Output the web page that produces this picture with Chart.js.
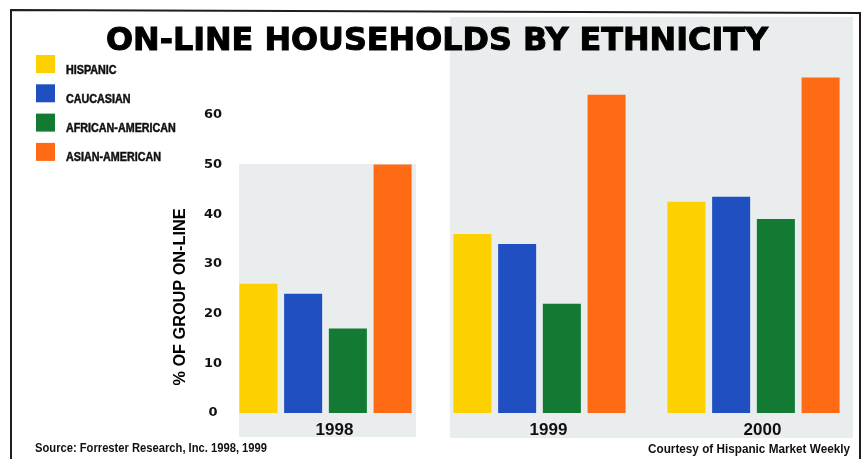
<!DOCTYPE html>
<html><head><meta charset="utf-8">
<script src="https://cdn.jsdelivr.net/npm/chart.js@4"></script>
<style>html,body{margin:0;padding:0;background:#fff;overflow:hidden}#wrap{width:864px;height:459px;position:relative}</style>
</head><body><div id="wrap"><canvas id="c" width="864" height="459"></canvas></div>
<script>
// ---- data ----
const categories = ['1998', '1999', '2000'];
const seriesNames = ['HISPANIC', 'CAUCASIAN', 'AFRICAN-AMERICAN', 'ASIAN-AMERICAN'];
const hispanic = [26, 36, 42.5];
const caucasian = [24, 34, 43.5];
const africanAmerican = [17, 22, 39];
const asianAmerican = [50, 64, 67.5];
const yTickValues = [0, 10, 20, 30, 40, 50, 60];
const titleText = 'ON-LINE HOUSEHOLDS BY ETHNICITY';
const yAxisTitle = '% OF GROUP ON-LINE';
const sourceText = 'Source: Forrester Research, Inc. 1998, 1999';
const courtesyText = 'Courtesy of Hispanic Market Weekly';

const seriesColors = ['#fdd000', '#1f4fc0', '#127a33', '#ff6a14'];
const seriesValues = [hispanic, caucasian, africanAmerican, asianAmerican];

const decor = {
  id: 'decor',
  beforeDraw(chart) {
    const ctx = chart.ctx;
    ctx.save();
    ctx.fillStyle = '#ffffff';
    ctx.fillRect(0, 0, chart.width, chart.height);
    // panels
    ctx.fillStyle = '#e9edee';
    ctx.fillRect(239, 164, 177, 273);
    ctx.fillRect(450, 17, 403, 421);
    // frame
    ctx.strokeStyle = '#1e1e1e';
    ctx.lineWidth = 2;
    ctx.beginPath();
    ctx.moveTo(11, 470);
    ctx.lineTo(11, 10);
    ctx.lineTo(860, 13);
    ctx.lineTo(860, 470);
    ctx.stroke();
    ctx.restore();
  },
  afterDraw(chart) {
    const ctx = chart.ctx;
    ctx.save();
    ctx.fillStyle = '#000';
    // title
    ctx.font = 'bold 32px "DejaVu Sans"';
    ctx.textAlign = 'center';
    ctx.textBaseline = 'alphabetic';
    ctx.fillText(titleText, 437, 50, 662);
    ctx.strokeStyle = '#000';
    ctx.lineWidth = 1;
    ctx.strokeText(titleText, 437, 50, 662);
    // legend
    ctx.textAlign = 'left';
    chart.data.datasets.forEach((ds, i) => {
      const y = 55 + i * 29.3;
      ctx.fillStyle = ds.backgroundColor;
      ctx.fillRect(36, y, 19, 18);
      ctx.fillStyle = '#111';
      ctx.font = 'bold 12.5px "Liberation Sans"';
      ctx.save();
      ctx.translate(66, y + 18.5);
      ctx.scale(0.86, 1);
      ctx.fillText(ds.label, 0, 0);
      ctx.strokeStyle = '#111';
      ctx.lineWidth = 0.5;
      ctx.strokeText(ds.label, 0, 0);
      ctx.restore();
    });
    // y axis title
    ctx.save();
    ctx.translate(185, 297);
    ctx.rotate(-Math.PI / 2);
    ctx.textAlign = 'center';
    ctx.font = 'bold 16.5px "Liberation Sans"';
    ctx.fillStyle = '#000';
    ctx.fillText(yAxisTitle, 0, 0, 177);
    ctx.restore();
    // footnotes
    ctx.font = 'bold 12.5px "Liberation Sans"';
    ctx.textAlign = 'left';
    ctx.fillStyle = '#111';
    ctx.fillText(sourceText, 35, 452, 232);
    ctx.fillText(courtesyText, 648, 453, 202);
    ctx.restore();
  }
};

new Chart(document.getElementById('c'), {
  type: 'bar',
  data: {
    labels: categories,
    datasets: seriesNames.map((name, i) => ({
      label: name,
      data: seriesValues[i],
      backgroundColor: seriesColors[i],
      borderWidth: 0,
      categoryPercentage: 0.836,
      barPercentage: 0.85
    }))
  },
  options: {
    responsive: false,
    animation: false,
    devicePixelRatio: 1,
    layout: { padding: { left: 0, right: 3.5, top: 65, bottom: 0 } },
    plugins: { legend: { display: false }, title: { display: false }, tooltip: { enabled: false } },
    scales: {
      x: {
        type: 'category',
        offset: true,
        grid: { display: false, drawTicks: false },
        border: { display: false },
        ticks: {
          color: '#111',
          font: { family: 'Liberation Sans', weight: 'bold', size: 17 },
          labelOffset: 9,
          padding: 7,
          maxRotation: 0
        },
        afterFit(s) { s.height = 46; }
      },
      y: {
        min: 0,
        max: 70,
        grid: { display: false, drawTicks: false },
        border: { display: false },
        afterBuildTicks(s) { s.ticks = yTickValues.map(v => ({ value: v })); },
        ticks: {
          color: '#111',
          mirror: true,
          crossAlign: 'center',
          padding: -14.5,
          font: { family: 'DejaVu Sans', weight: 'bold', size: 13 }
        },
        afterFit(s) { s.width = 218.5; }
      }
    }
  },
  plugins: [decor]
});
</script>
</body></html>
